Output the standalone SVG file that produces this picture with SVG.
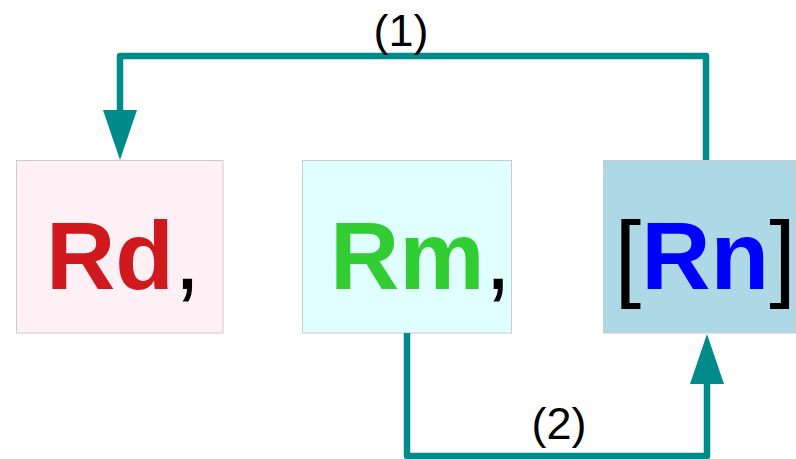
<svg xmlns="http://www.w3.org/2000/svg" width="796" height="459" viewBox="0 0 796 459">
  <style>
    .box { stroke: #cccccc; stroke-width: 1; }
    .reg { font-family: "Liberation Sans", Arial, sans-serif; font-weight: bold; font-size: 96px; }
    .punct { fill: #000000; font-weight: normal; }
    .wire { fill: none; stroke: #008b8b; stroke-width: 6.5; stroke-linejoin: round; }
    .label { font-family: "Liberation Sans", Arial, sans-serif; font-size: 45px; fill: #000000; text-anchor: middle; }
  </style>
  <defs>
    <!-- filled arrowhead drawn past the end of its wire -->
    <marker id="head" markerUnits="userSpaceOnUse" viewBox="0 0 50 34" refX="0" refY="17" markerWidth="50" markerHeight="34" orient="auto">
      <path d="M0,0 L50,17 L0,34 Z" fill="#008b8b"/>
    </marker>
  </defs>

  <g id="rd">
    <rect class="box" x="16.5" y="160.5" width="206.5" height="172.5" fill="#fff0f5"/>
    <text class="reg" x="46" y="289"><tspan fill="#d0191f">Rd</tspan><tspan class="punct">,</tspan></text>
  </g>

  <g id="rm">
    <rect class="box" x="302.5" y="160.5" width="209" height="172.5" fill="#e0ffff"/>
    <text class="reg" x="330" y="289"><tspan fill="#32cd32">Rm</tspan><tspan class="punct">,</tspan></text>
  </g>

  <g id="rn">
    <rect class="box" x="603.5" y="160.5" width="192" height="172.5" fill="#add8e6"/>
    <text class="reg" x="614.5" y="289"><tspan class="punct">[</tspan><tspan fill="#0000ff">Rn</tspan><tspan class="punct">]</tspan></text>
  </g>

  <g id="connectors">
    <path class="wire" d="M706,160 V56 H120 V110" marker-end="url(#head)"/>
    <path class="wire" d="M407,333 V456 H707 V384" marker-end="url(#head)"/>
    <text class="label" x="401" y="46">(1)</text>
    <text class="label" x="559" y="439">(2)</text>
  </g>
</svg>
